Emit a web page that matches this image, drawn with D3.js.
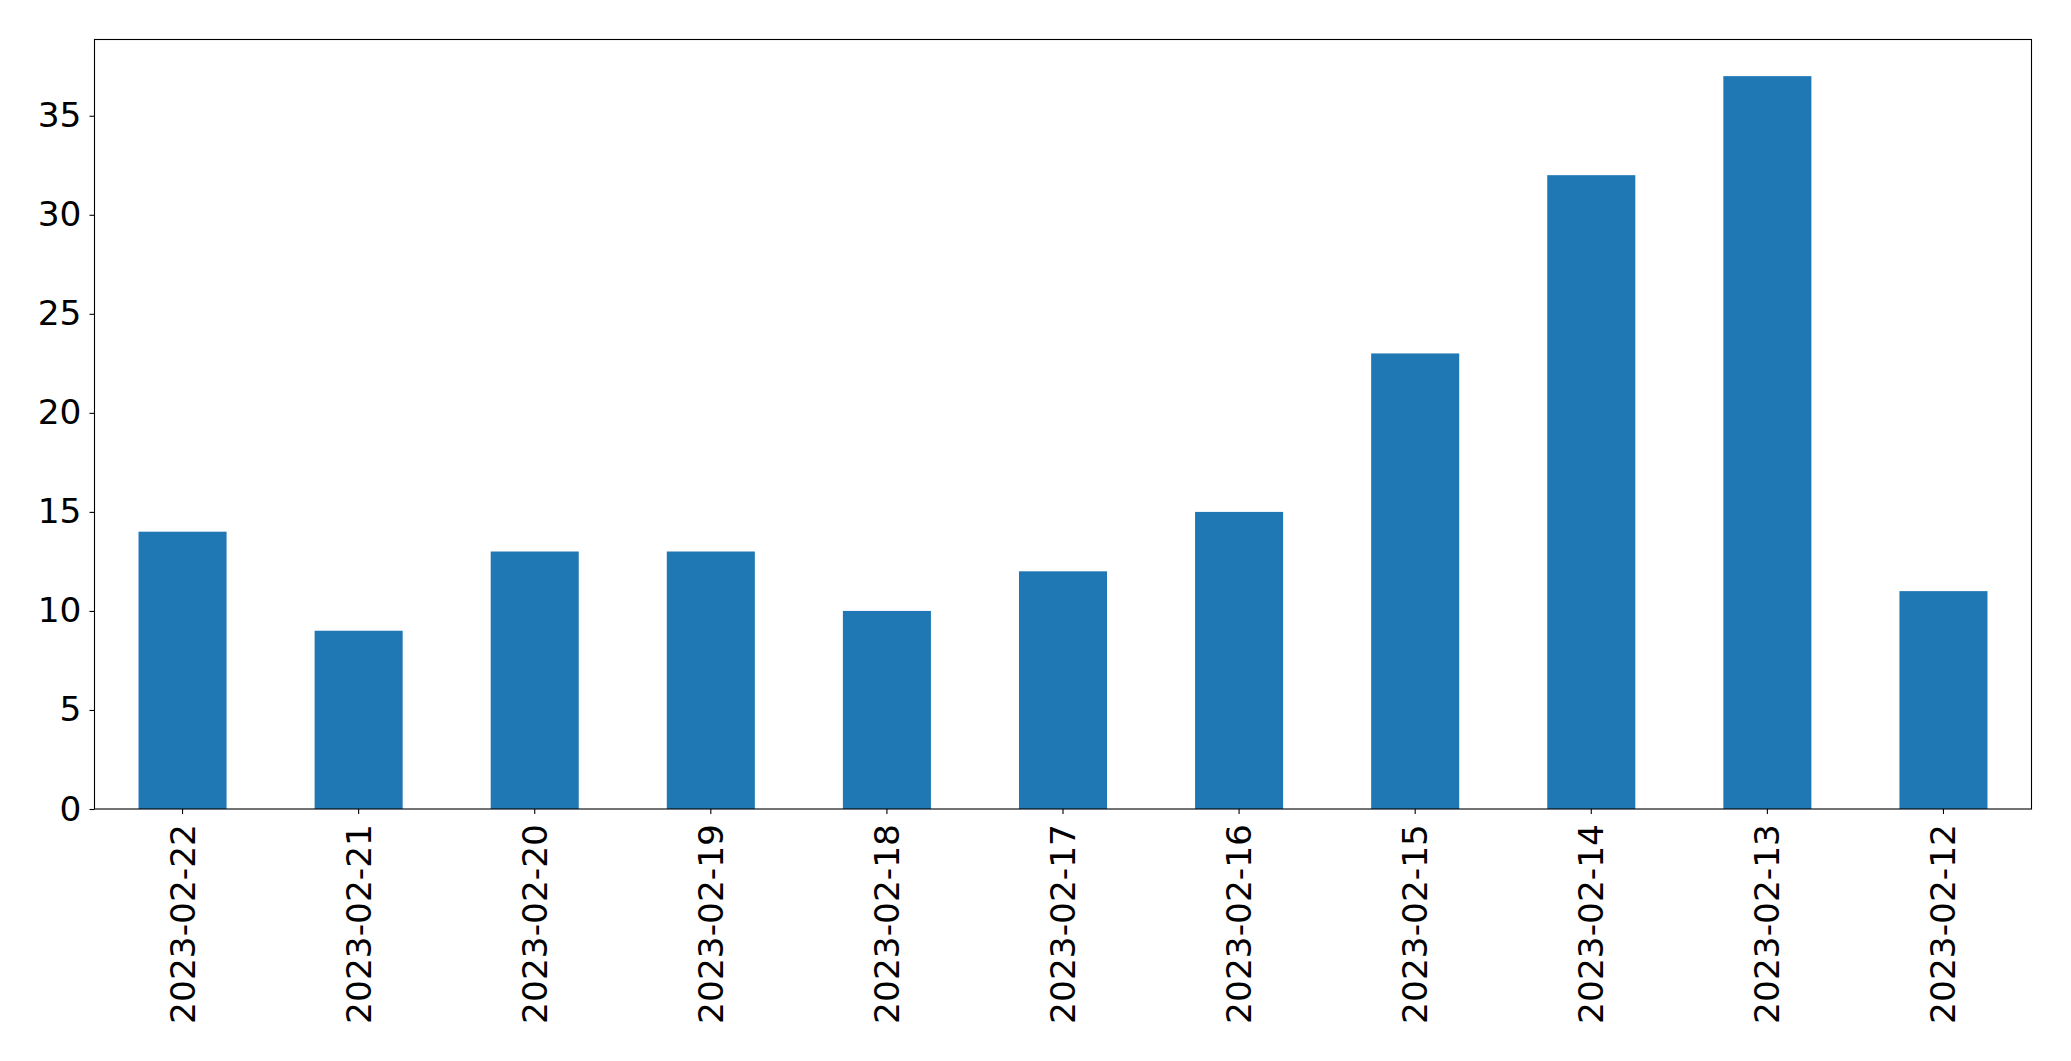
<!DOCTYPE html>
<html><head><meta charset="utf-8">
<script src="https://cdn.jsdelivr.net/npm/d3@7"></script>
<style>body{margin:0;background:#fff}svg{display:block}</style>
</head><body>
<script>
const categories = ["2023-02-22","2023-02-21","2023-02-20","2023-02-19","2023-02-18","2023-02-17","2023-02-16","2023-02-15","2023-02-14","2023-02-13","2023-02-12"];
const values = [14, 9, 13, 13, 10, 12, 15, 23, 32, 37, 11];
const yTicks = [0, 5, 10, 15, 20, 25, 30, 35];

const W = 2071, H = 1061;
const m = {left: 94.5, right: 2031.5, top: 39.5, bottom: 809};
const svg = d3.select("body").append("svg").attr("width", W).attr("height", H);

const x = d3.scaleBand().domain(categories).range([m.left, m.right]).paddingInner(0.5).paddingOuter(0.25);
const y = d3.scaleLinear().domain([0, d3.max(values) * 1.05]).range([m.bottom, m.top]);

svg.append("g").selectAll("rect").data(values).join("rect")
  .attr("x", (d, i) => x(categories[i]))
  .attr("width", x.bandwidth())
  .attr("y", d => y(d))
  .attr("height", d => y(0) - y(d))
  .attr("fill", "#1f77b4");

const font = "DejaVu Sans, sans-serif";
const fs = 34.4;
const yAxis = svg.append("g").attr("transform", `translate(${m.left},0)`)
  .call(d3.axisLeft(y).tickValues(yTicks).tickSize(5).tickPadding(8).tickFormat(d3.format("d")));
yAxis.select(".domain").remove();
yAxis.selectAll("text").attr("font-family", font).attr("font-size", fs).attr("fill", "#000");
yAxis.selectAll("line").attr("stroke", "#000").attr("stroke-width", 1.1);

const xAxis = svg.append("g").attr("transform", `translate(0,${m.bottom})`)
  .call(d3.axisBottom(x).tickSize(5).tickPadding(0));
xAxis.select(".domain").remove();
xAxis.selectAll("line").attr("stroke", "#000").attr("stroke-width", 1.1);
xAxis.selectAll("text")
  .attr("font-family", font).attr("font-size", fs).attr("fill", "#000")
  .attr("text-anchor", "end").attr("dy", null).attr("y", 0)
  .attr("dominant-baseline", "central")
  .attr("transform", "translate(0,15) rotate(-90)");

svg.append("rect").attr("x", m.left).attr("y", m.top)
  .attr("width", m.right - m.left).attr("height", m.bottom - m.top)
  .attr("fill", "none").attr("stroke", "#000").attr("stroke-width", 1.1);
</script>
</body></html>
